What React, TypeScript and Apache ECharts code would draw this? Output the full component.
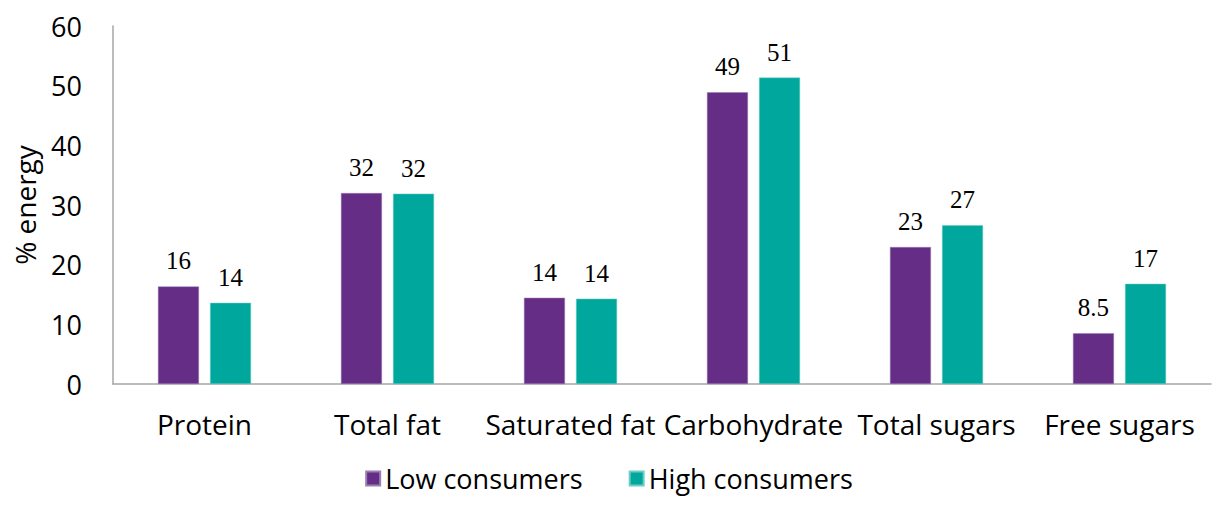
import React, { useEffect, useRef } from "react";
import * as echarts from "echarts";

// Nutrient categories along the x axis
const categories = ["Protein", "Total fat", "Saturated fat", "Carbohydrate", "Total sugars", "Free sugars"];

// % energy by consumer group
const lowConsumers = [16.35, 32.0, 14.45, 48.9, 22.95, 8.5];
const highConsumers = [13.6, 31.9, 14.3, 51.35, 26.6, 16.8];

const seriesNames = ["Low consumers", "High consumers"];
const yTicks = { min: 0, max: 60, interval: 10 };

const PURPLE = "#652D86";
const TEAL = "#00A79D";
const AXIS_GREY = "#A6A6A6";
const SANS = "'Open Sans', 'Noto Sans', sans-serif";
const SERIF = "'Liberation Serif', 'Times New Roman', serif";

// Two significant figures, as printed above each bar
const fmt = (v: number) => String(Number(v.toPrecision(2)));

export default function App() {
  const ref = useRef<HTMLDivElement>(null);

  useEffect(() => {
    document.body.style.margin = "0";
    if (!ref.current) return;
    const chart = echarts.init(ref.current, undefined, { renderer: "svg" });

    const barLabel = {
      show: true,
      position: "top" as const,
      distance: 13,
      color: "#000",
      fontFamily: SERIF,
      fontSize: 25,
      formatter: (p: any) => fmt(p.value),
    };

    chart.setOption({
      animation: false,
      backgroundColor: "#fff",
      grid: { left: 113, right: 7, top: 26, bottom: 122, containLabel: false },
      legend: {
        bottom: 9,
        left: "center",
        icon: "rect",
        itemWidth: 14,
        itemHeight: 14,
        itemGap: 46,
        textStyle: { fontFamily: SANS, fontSize: 27, color: "#000" },
        data: seriesNames,
      },
      xAxis: {
        type: "category",
        data: categories,
        axisLine: { show: true, lineStyle: { color: AXIS_GREY, width: 1.5 } },
        axisTick: { show: false },
        axisLabel: { fontFamily: SANS, fontSize: 28, color: "#000", margin: 26, interval: 0 },
      },
      yAxis: {
        type: "value",
        min: yTicks.min,
        max: yTicks.max,
        interval: yTicks.interval,
        name: "% energy",
        nameLocation: "middle",
        nameGap: 74,
        nameRotate: 90,
        nameTextStyle: { fontFamily: SANS, fontSize: 28, color: "#000" },
        axisLine: { show: true, lineStyle: { color: AXIS_GREY, width: 1.5 } },
        axisTick: { show: false },
        splitLine: { show: false },
        axisLabel: { fontFamily: SANS, fontSize: 27, color: "#000", margin: 31 },
      },
      series: [
        {
          name: seriesNames[0],
          type: "bar",
          data: lowConsumers,
          barWidth: 41,
          barGap: "27%",
          itemStyle: { color: PURPLE, borderColor: "#9a7fb0", borderWidth: 0.5 },
          label: barLabel,
        },
        {
          name: seriesNames[1],
          type: "bar",
          data: highConsumers,
          barWidth: 41,
          barGap: "27%",
          itemStyle: { color: TEAL, borderColor: "#6fcdc6", borderWidth: 0.5 },
          label: barLabel,
        },
      ],
    });

    return () => chart.dispose();
  }, []);

  return <div ref={ref} style={{ width: 1218, height: 506 }} />;
}
